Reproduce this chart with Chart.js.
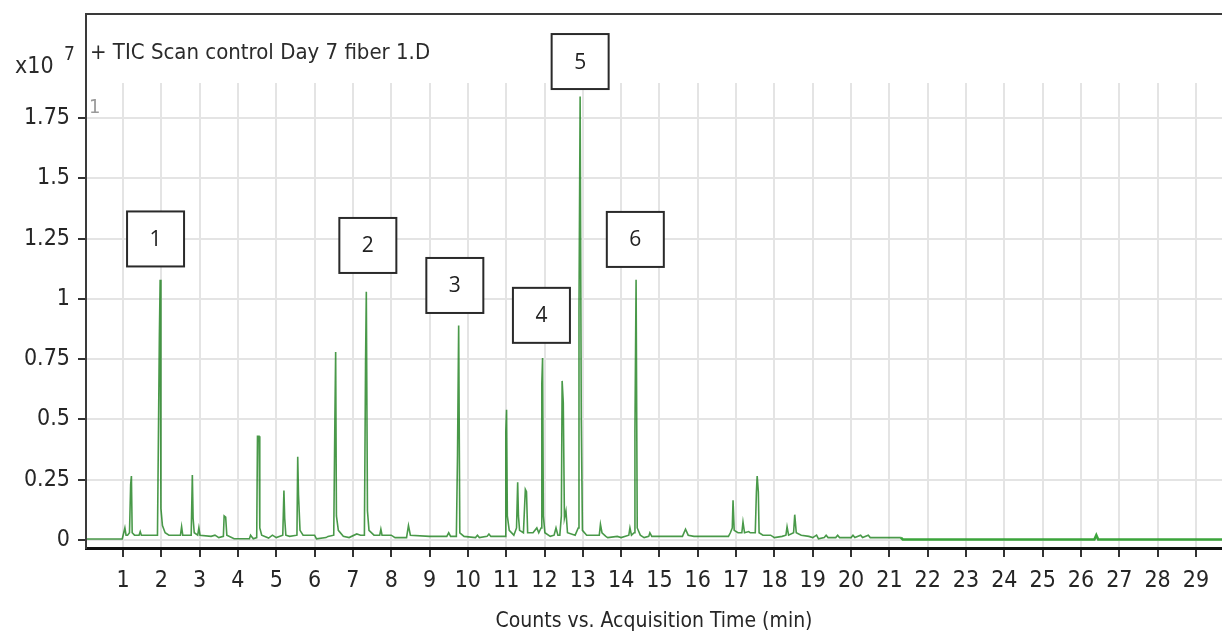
<!DOCTYPE html>
<html>
<head>
<meta charset="utf-8">
<script src="https://cdn.jsdelivr.net/npm/chart.js@4.4.1/dist/chart.umd.min.js"></script>
<style>
html,body{margin:0;padding:0;background:#fff;}
#wrap{width:1222px;height:636px;position:relative;}
</style>
</head>
<body>
<div id="wrap"><canvas id="c" width="1222" height="636"></canvas></div>
<script>
// ---- data ----
const times = [0.03,0.98,1.02,1.05,1.08,1.12,1.17,1.2,1.22,1.24,1.3,1.42,1.45,1.48,1.9,1.95,1.97,1.99,2.03,2.1,2.2,2.5,2.53,2.56,2.78,2.81,2.83,2.86,2.95,2.98,3.01,3.3,3.4,3.5,3.62,3.64,3.68,3.71,3.9,4.3,4.33,4.4,4.49,4.51,4.55,4.57,4.62,4.8,4.9,5.0,5.17,5.2,5.22,5.25,5.35,5.54,5.56,5.58,5.62,5.7,6.0,6.05,6.3,6.35,6.5,6.53,6.55,6.57,6.62,6.75,6.9,7.1,7.2,7.3,7.33,7.35,7.38,7.42,7.55,7.7,7.73,7.76,8.0,8.1,8.4,8.45,8.5,9.0,9.45,9.5,9.55,9.7,9.73,9.76,9.79,9.9,10.2,10.25,10.3,10.5,10.55,10.6,10.97,10.99,11.01,11.03,11.08,11.2,11.27,11.3,11.32,11.35,11.45,11.5,11.53,11.56,11.7,11.8,11.85,11.91,11.93,11.95,11.97,12.01,12.15,12.25,12.3,12.35,12.4,12.44,12.46,12.49,12.52,12.56,12.6,12.8,12.88,12.9,12.93,12.96,12.99,13.1,13.43,13.46,13.5,13.6,13.65,13.9,14.0,14.2,14.23,14.27,14.34,14.36,14.39,14.42,14.5,14.6,14.72,14.75,14.8,15.0,15.6,15.68,15.75,15.9,16.8,16.85,16.9,16.92,16.95,17.05,17.15,17.18,17.22,17.33,17.37,17.5,17.53,17.55,17.58,17.6,17.7,17.9,18.0,18.2,18.3,18.33,18.37,18.5,18.53,18.57,18.7,18.9,19.0,19.1,19.15,19.3,19.35,19.4,19.6,19.65,19.7,20.0,20.05,20.1,20.25,20.3,20.45,20.5,21.3,21.35,26.35,26.4,26.45,29.68];
const counts = [0.004,0.004,0.03,0.05,0.02,0.02,0.03,0.23,0.265,0.03,0.02,0.02,0.035,0.02,0.02,0.85,1.08,0.13,0.06,0.03,0.02,0.02,0.055,0.02,0.02,0.27,0.09,0.03,0.02,0.05,0.02,0.015,0.02,0.01,0.015,0.10,0.095,0.02,0.005,0.005,0.02,0.005,0.01,0.43,0.43,0.05,0.02,0.008,0.02,0.01,0.02,0.205,0.09,0.02,0.015,0.02,0.345,0.19,0.04,0.02,0.02,0.005,0.01,0.015,0.02,0.5,0.78,0.1,0.04,0.015,0.01,0.025,0.02,0.02,0.73,1.03,0.12,0.04,0.02,0.02,0.045,0.02,0.02,0.01,0.01,0.06,0.02,0.015,0.015,0.03,0.015,0.015,0.35,0.89,0.03,0.015,0.01,0.02,0.01,0.015,0.025,0.015,0.015,0.45,0.54,0.1,0.04,0.02,0.05,0.24,0.1,0.04,0.03,0.21,0.2,0.03,0.03,0.05,0.03,0.05,0.65,0.755,0.1,0.03,0.015,0.02,0.05,0.02,0.02,0.1,0.66,0.57,0.09,0.12,0.03,0.02,0.05,0.95,1.84,0.5,0.04,0.02,0.02,0.065,0.03,0.015,0.01,0.015,0.01,0.02,0.05,0.02,0.03,0.45,1.08,0.05,0.02,0.01,0.015,0.03,0.015,0.015,0.015,0.045,0.02,0.015,0.015,0.03,0.05,0.165,0.04,0.03,0.03,0.075,0.03,0.035,0.03,0.03,0.2,0.265,0.2,0.03,0.02,0.02,0.01,0.015,0.02,0.055,0.02,0.03,0.105,0.03,0.02,0.015,0.01,0.02,0.005,0.01,0.02,0.01,0.01,0.02,0.01,0.01,0.02,0.01,0.02,0.01,0.02,0.01,0.01,0.002,0.002,0.02,0.002,0.002];
const xTickLabels = [1,2,3,4,5,6,7,8,9,10,11,12,13,14,15,16,17,18,19,20,21,22,23,24,25,26,27,28,29];
const yTickLabels = [0,0.25,0.5,0.75,1,1.25,1.5,1.75];
const peakNumbers = ['1','2','3','4','5','6'];
const peakLabelTimes = [1.85,7.39,9.66,11.92,12.93,14.37];
const peakLabelLevels = [1.249,1.222,1.056,0.932,1.985,1.247];
const headerText = '+ TIC Scan control Day 7 fiber 1.D';
const xAxisTitle = 'Counts vs. Acquisition Time (min)';

const FONT = "'Liberation Sans Narrow','DejaVu Sans Condensed','Liberation Sans',sans-serif";
const points = times.map((t,i)=>({x:t,y:counts[i]}));

const decor = {
  id:'decor',
  afterDatasetsDraw(chart){
    const {ctx, scales:{x,y}} = chart;
    ctx.save();
    const bw=57, bh=55;
    peakNumbers.forEach((n,i)=>{
      const px = x.getPixelForValue(peakLabelTimes[i]);
      const py = y.getPixelForValue(peakLabelLevels[i]);
      ctx.fillStyle='#fff';
      ctx.fillRect(px-bw/2,py-bh/2,bw,bh);
      ctx.strokeStyle='#2a2a2a'; ctx.lineWidth=2;
      ctx.strokeRect(px-bw/2,py-bh/2,bw,bh);
      ctx.fillStyle='#222'; ctx.font="21px 'Open Sans',sans-serif";
      ctx.textAlign='center'; ctx.textBaseline='middle';
      ctx.fillText(n,px,py+1);
    });
    ctx.restore();
  },
  afterDraw(chart){
    const {ctx, chartArea:a} = chart;
    ctx.save();
    const top = a.top-69;
    ctx.strokeStyle='#3a3a3a'; ctx.lineWidth=2;
    ctx.beginPath();
    ctx.moveTo(a.left,a.bottom); ctx.lineTo(a.left,top); ctx.lineTo(chart.width+2,top);
    ctx.stroke();
    ctx.fillStyle='#2b2b2b';
    ctx.font="22px "+FONT; ctx.textAlign='left'; ctx.textBaseline='middle';
    ctx.fillText(headerText,a.left+4,top+39);
    ctx.font="23px "+FONT;
    ctx.fillText('x10',15,a.top-16);
    ctx.font="19px "+FONT;
    ctx.fillText('7',64,a.top-28);
    ctx.fillStyle='#9a9a9a'; ctx.font="20px "+FONT;
    ctx.fillText('1',a.left+3,a.top+25);
    ctx.restore();
  }
};

new Chart(document.getElementById('c'),{
  type:'line',
  data:{datasets:[{
    data:points,
    borderColor:'rgba(28,128,28,0.8)',
    borderWidth:1.6,
    pointRadius:0,
    tension:0,
    fill:false,
    segment:{
      borderWidth: c => c.p0.parsed.x >= 21.3 ? 2.6 : 1.6,
      borderColor: c => c.p0.parsed.x >= 21.3 ? 'rgba(50,160,50,0.95)' : 'rgba(28,128,28,0.8)'
    }
  }]},
  options:{
    responsive:false, animation:false, devicePixelRatio:1,
    layout:{padding:{left:0,right:0,top:83,bottom:0}},
    plugins:{legend:{display:false},tooltip:{enabled:false}},
    scales:{
      x:{
        type:'linear', min:0.035, max:29.68,
        afterBuildTicks: s => { s.ticks = xTickLabels.map(v=>({value:v})); },
        afterFit: s => { s.height = 88; },
        ticks:{color:'#262626',font:{family:FONT,size:23},padding:10,maxRotation:0,autoSkip:false},
        grid:{color:'#e4e4e4',lineWidth:2,tickColor:'#333',tickLength:9,tickWidth:2},
        border:{color:'#111',width:3},
        title:{display:true,text:xAxisTitle,color:'#262626',font:{family:FONT,size:21},padding:{top:0,bottom:2}}
      },
      y:{
        type:'linear', min:-0.0332, max:1.896,
        afterBuildTicks: s => { s.ticks = yTickLabels.map(v=>({value:v})); },
        afterFit: s => { s.width = 86; },
        ticks:{color:'#262626',font:{family:FONT,size:23},padding:8,callback:v=>String(v)},
        grid:{color:'#e4e4e4',lineWidth:2,tickColor:'#333',tickLength:8,tickWidth:2},
        border:{color:'#3a3a3a',width:2}
      }
    }
  },
  plugins:[decor]
});
</script>
</body>
</html>
